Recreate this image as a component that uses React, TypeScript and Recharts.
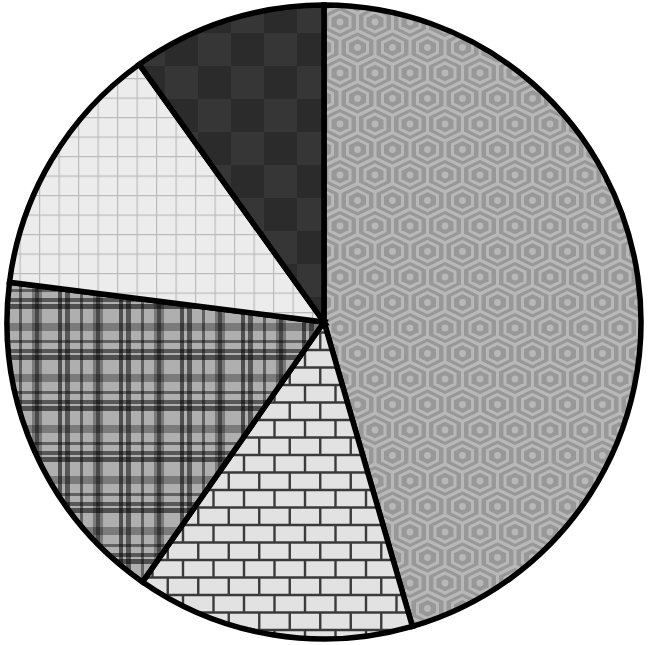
import React from 'react';
import { PieChart, Pie, Cell } from 'recharts';

// slices run clockwise from 12 o'clock
const segments = ['Hexagon', 'Brick', 'Plaid', 'Grid', 'Checker'];
const shares = [45.5, 14.2, 17.3, 13.1, 9.9];
const patterns = ['hexFill', 'brickFill', 'plaidFill', 'gridFill', 'checkFill'];

const data = segments.map((name, i) => ({ name, value: shares[i], pattern: patterns[i] }));

// pointy-top hexagon path
const hexPath = (cx: number, cy: number, a: number, t: number) =>
  `M${cx},${cy - t} L${cx + a},${cy - t / 2} L${cx + a},${cy + t / 2} L${cx},${cy + t} L${cx - a},${cy + t / 2} L${cx - a},${cy - t / 2} Z`;

const hexCenters = [[0, 0], [35, 0], [17.5, 25.5], [0, 51], [35, 51]];

// plaid stripes: [offset, width, opacity]
const plaidCols = [
  [0, 10, 0.3],
  [3, 4, 0.4],
  [26, 4, 0.55],
  [33, 5, 0.5],
  [48, 3, 0.45],
];
const plaidRows = [
  [0, 8, 0.3],
  [17, 3, 0.45],
  [26, 4, 0.5],
  [32, 5, 0.55],
];

const PatternDefs = () => (
  <defs>
    <pattern id="hexFill" x={340} y={22} width={35} height={51} patternUnits="userSpaceOnUse">
      <rect width={35} height={51} fill="#989898" />
      {hexCenters.map(([x, y], i) => (
        <g key={i}>
          <path d={hexPath(x, y, 17.5, 17)} fill="none" stroke="#b8b8b8" strokeWidth={3} />
          <path d={hexPath(x, y, 10, 10)} fill="none" stroke="#b8b8b8" strokeWidth={3} />
          <circle cx={x} cy={y} r={3.4} fill="#b8b8b8" />
        </g>
      ))}
    </pattern>
    <pattern id="brickFill" width={61} height={35} patternUnits="userSpaceOnUse">
      <rect width={61} height={35} fill="#e2e2e2" />
      <g stroke="#3a3a3a" strokeWidth={2.4}>
        <line x1={0} y1={0} x2={61} y2={0} />
        <line x1={0} y1={17.5} x2={61} y2={17.5} />
        <line x1={0} y1={35} x2={61} y2={35} />
        <line x1={0} y1={0} x2={0} y2={17.5} />
        <line x1={30.5} y1={0} x2={30.5} y2={17.5} />
        <line x1={61} y1={0} x2={61} y2={17.5} />
        <line x1={15.25} y1={17.5} x2={15.25} y2={35} />
        <line x1={45.75} y1={17.5} x2={45.75} y2={35} />
      </g>
    </pattern>
    <pattern id="plaidFill" x={32} y={17} width={61} height={51} patternUnits="userSpaceOnUse">
      <rect width={61} height={51} fill="#afafaf" />
      {plaidCols.map(([o, w, op], i) => (
        <rect key={'v' + i} x={o} y={0} width={w} height={51} fill="#000" fillOpacity={op} />
      ))}
      {plaidRows.map(([o, w, op], i) => (
        <rect key={'h' + i} x={0} y={o} width={61} height={w} fill="#000" fillOpacity={op} />
      ))}
    </pattern>
    <pattern id="gridFill" width={19.5} height={19.5} patternUnits="userSpaceOnUse">
      <rect width={19.5} height={19.5} fill="#ececec" />
      <path d="M0,0 L19.5,0 M0,0 L0,19.5" stroke="#bcbcbc" strokeWidth={2.4} fill="none" />
    </pattern>
    <pattern id="checkFill" width={66} height={66} patternUnits="userSpaceOnUse">
      <rect width={66} height={66} fill="#363636" />
      <rect x={0} y={0} width={33} height={33} fill="#2b2b2b" />
      <rect x={33} y={33} width={33} height={33} fill="#2b2b2b" />
    </pattern>
  </defs>
);

export default function App() {
  return (
    <div style={{ position: 'absolute', left: 0, top: 0, width: 648, height: 645, background: '#fff' }}>
      <PieChart width={648} height={645} margin={{ top: 0, right: 0, bottom: 0, left: 0 }}>
        <PatternDefs />
        <Pie
          data={data}
          dataKey="value"
          nameKey="name"
          cx={324}
          cy={322}
          outerRadius={317}
          startAngle={90}
          endAngle={-270}
          stroke="#000"
          strokeWidth={5.5}
          isAnimationActive={false}
        >
          {data.map((d) => (
            <Cell key={d.name} fill={`url(#${d.pattern})`} />
          ))}
        </Pie>
      </PieChart>
    </div>
  );
}
